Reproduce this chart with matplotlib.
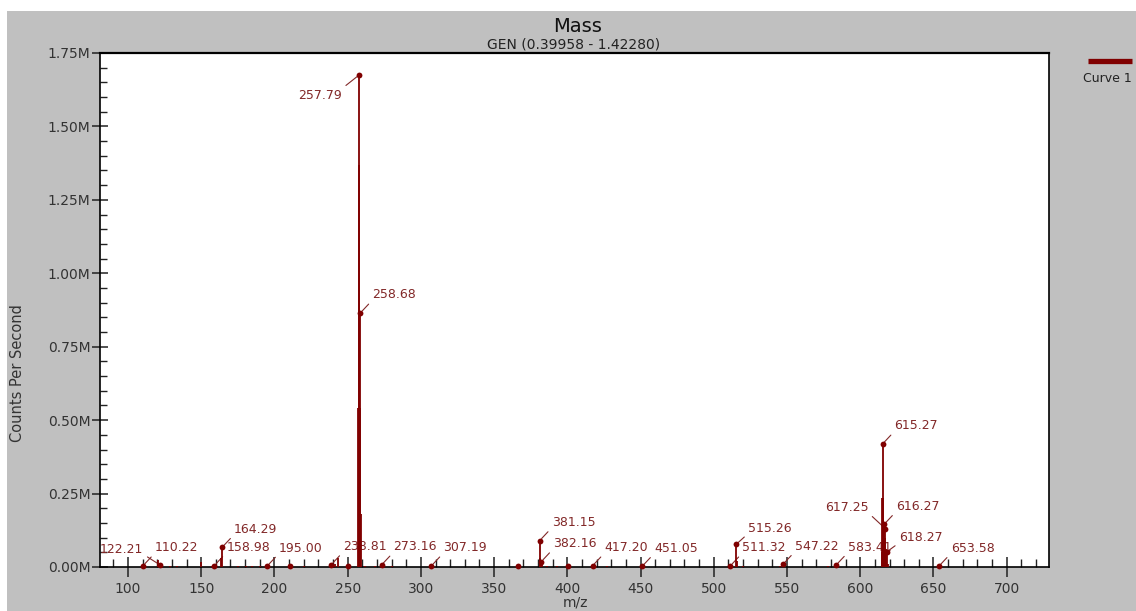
import numpy as np
import matplotlib
matplotlib.use('Agg')
import matplotlib.pyplot as plt
from matplotlib.patches import Rectangle
from matplotlib.lines import Line2D
from matplotlib.ticker import MultipleLocator, FuncFormatter

# Centroid sticks of the mass spectrum (m/z, counts per second in millions)
stick_mz = [
    110.22, 120.70, 122.21, 129.0, 133.5, 150.0, 157.5, 158.98, 163.5, 164.29,
    175.0, 180.5, 185.0, 190.0, 195.00, 210.6, 220.0,
    238.81, 240.0, 241.5, 243.2, 250.5, 257.40, 257.65, 257.79, 258.45,
    258.68, 259.10, 262.0, 269.0, 273.16, 280.0, 307.19, 366.3,
    381.15, 381.60, 382.16, 382.60, 386.0, 393.0, 400.2, 417.20, 427.0, 451.05,
    511.32, 512.5, 515.26, 515.70, 520.0, 545.0, 547.22, 578.0, 583.41,
    614.60, 615.00, 615.27, 615.60, 616.27, 616.70, 617.25, 617.80, 618.27,
    619.00, 627.0, 653.58,
]
stick_counts = [
    0.004, 0.025, 0.006, 0.002, 0.002, 0.018, 0.004, 0.005, 0.030, 0.067,
    0.002, 0.002, 0.002, 0.003, 0.003, 0.004, 0.002,
    0.008, 0.004, 0.010, 0.030, 0.003, 0.540, 1.370, 1.675, 0.540,
    0.865, 0.180, 0.003, 0.004, 0.007, 0.002, 0.004, 0.005,
    0.090, 0.030, 0.018, 0.020, 0.002, 0.002, 0.003, 0.004, 0.003, 0.002,
    0.004, 0.006, 0.077, 0.020, 0.003, 0.002, 0.009, 0.002, 0.006,
    0.050, 0.235, 0.419, 0.235, 0.145, 0.100, 0.130, 0.060, 0.052,
    0.010, 0.001, 0.002,
]

# Annotated peaks
label_mz = [
    257.79, 258.68, 164.29, 158.98, 122.21, 110.22, 195.00, 238.81, 273.16,
    307.19, 381.15, 382.16, 417.20, 451.05, 511.32, 515.26, 547.22, 583.41,
    615.27, 616.27, 617.25, 618.27, 653.58,
]
# extra dotted peaks whose labels are suppressed
dot_only_mz = [210.6, 250.5, 366.3, 400.2]

# label placement (pixel offset of text anchor from the peak top, side)
label_place = {
    257.79: (-17, -20, 'left'), 122.21: (-17, 16, 'left'),
    617.25: (-17, 21, 'left'), 618.27: (12, 14, 'right'),
    515.26: (12, 16, 'right'), 381.15: (12, 18, 'right'),
}
default_place = (12, 18, 'right')

x_ticks = np.arange(100, 701, 50)
y_ticks = np.arange(0, 1.76, 0.25)

MAROON = '#800000'
LABEL_C = '#822828'
TICK_C = '#333333'
GRAY = '#c0c0c0'

fig = plt.figure(figsize=(11.36, 6.11), dpi=100)
fig.patch.set_facecolor('white')
fig.patches.append(Rectangle((7 / 1136, 0), 1, 1 - 11 / 611, transform=fig.transFigure,
                             facecolor=GRAY, edgecolor='none', zorder=-10))

ax = fig.add_axes([100 / 1136, 1 - 567 / 611, 949 / 1136, 514 / 611])
ax.set_facecolor('white')
ax.set_xlim(80.9, 728.9)
ax.set_ylim(0, 1.75)

lookup = dict(zip(stick_mz, stick_counts))
ax.vlines(stick_mz, 0, stick_counts, color=MAROON, lw=1.3, zorder=4)

dot_x = label_mz + dot_only_mz
ax.plot(dot_x, [lookup[m] for m in dot_x], 'o', color=MAROON, ms=4.2, mec='none',
        zorder=5, clip_on=False)

for mz in label_mz:
    dx, dy, side = label_place.get(mz, default_place)
    if side == 'right':
        ha, rel = 'left', (0, 0.1)
    else:
        ha, rel = 'right', (1, 1) if dy < 0 else (1, 0.1)
    ax.annotate(f'{mz:.2f}', xy=(mz, lookup[mz]), xytext=(dx, dy),
                textcoords='offset pixels', ha=ha, va='center', fontsize=9,
                color=LABEL_C, zorder=3,
                arrowprops=dict(arrowstyle='-', color=LABEL_C, lw=0.8,
                                relpos=rel, shrinkA=1, shrinkB=2))

# axes styling
for s in ax.spines.values():
    s.set_linewidth(1.2)
    s.set_color('black')
ax.spines['top'].set_linewidth(1.6)

ax.xaxis.set_major_locator(MultipleLocator(50))
ax.xaxis.set_minor_locator(MultipleLocator(10))
ax.yaxis.set_major_locator(MultipleLocator(0.25))
ax.yaxis.set_minor_locator(MultipleLocator(0.05))
ax.yaxis.set_major_formatter(FuncFormatter(lambda v, p: f'{v:.2f}M'))
ax.set_xticks(x_ticks)
ax.set_yticks(y_ticks)

ax.tick_params(axis='x', which='major', direction='inout', length=14, width=1.1,
               color='#222222', labelsize=10, labelcolor=TICK_C, pad=4)
ax.tick_params(axis='x', which='minor', direction='in', length=6, width=1.0,
               color='#222222')
ax.tick_params(axis='y', which='major', direction='inout', length=11, width=1.1,
               color='#222222', labelsize=10, labelcolor=TICK_C, pad=1.5)
ax.tick_params(axis='y', which='minor', direction='in', length=5, width=1.0,
               color='#222222')

# titles and axis labels
fig.text(578 / 1136, 1 - 27 / 611, 'Mass', ha='center', va='center', fontsize=14,
         color='#111111')
fig.text(574 / 1136, 1 - 44 / 611, 'GEN (0.39958 - 1.42280)', ha='center',
         va='center', fontsize=10, color='#222222')
fig.text(18 / 1136, 1 - 373 / 611, 'Counts Per Second', rotation=90, ha='center',
         va='center', fontsize=10.5, color=TICK_C)
fig.text(575 / 1136, 1 - 610 / 611, 'm/z', ha='center', va='bottom', fontsize=10,
         color=TICK_C)

# legend
fig.lines.append(Line2D([1088 / 1136, 1132 / 1136], [1 - 61 / 611] * 2,
                        transform=fig.transFigure, color=MAROON, lw=3.8,
                        solid_capstyle='butt'))
fig.text(1083 / 1136, 1 - 79 / 611, 'Curve 1', ha='left', va='center', fontsize=9,
         color='#222222')

fig.savefig('out.png', dpi=100, facecolor=fig.get_facecolor())
